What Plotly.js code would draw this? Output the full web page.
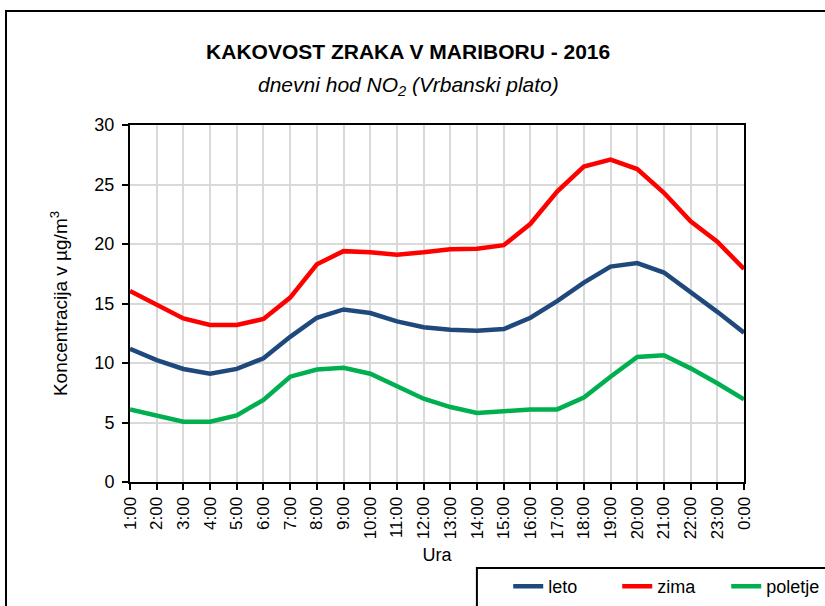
<!DOCTYPE html>
<html><head><meta charset="utf-8">
<script src="https://cdn.plot.ly/plotly-3.0.1.min.js"></script>
<style>
html,body{margin:0;padding:0;overflow:hidden;background:#fff;}
#wrap{position:relative;width:825px;height:606px;overflow:hidden;}
#chart{position:absolute;left:0;top:0;width:825px;height:606px;}
#frame{position:absolute;left:5px;top:10px;width:900px;height:700px;border:2px solid #000;pointer-events:none;}
</style></head>
<body>
<div id="wrap"><div id="chart"></div><div id="frame"></div></div>
<script>
const hours = ["1:00","2:00","3:00","4:00","5:00","6:00","7:00","8:00","9:00","10:00","11:00","12:00","13:00","14:00","15:00","16:00","17:00","18:00","19:00","20:00","21:00","22:00","23:00","0:00"];
const leto = [11.2,10.25,9.5,9.1,9.5,10.4,12.2,13.8,14.5,14.2,13.5,13.0,12.8,12.7,12.85,13.8,15.2,16.75,18.1,18.4,17.6,16.0,14.3,12.55];
const zima = [16.05,14.9,13.75,13.2,13.2,13.7,15.5,18.3,19.4,19.3,19.1,19.3,19.55,19.6,19.9,21.7,24.4,26.5,27.1,26.3,24.3,21.9,20.2,17.9];
const poletje = [6.1,5.6,5.07,5.07,5.6,6.9,8.85,9.45,9.6,9.1,8.0,7.0,6.3,5.8,5.95,6.1,6.1,7.1,8.85,10.5,10.65,9.55,8.3,6.95];

const FONT = '"Liberation Sans Narrow", "Arial Narrow", "Liberation Sans", Arial, sans-serif';

const traces = [
  {x: hours, y: leto, name: 'leto', type: 'scatter', mode: 'lines', line: {color: '#1F497D', width: 4.5}},
  {x: hours, y: zima, name: 'zima', type: 'scatter', mode: 'lines', line: {color: '#FF0000', width: 4.5}},
  {x: hours, y: poletje, name: 'poletje', type: 'scatter', mode: 'lines', line: {color: '#00B050', width: 4.5}}
];

const layout = {
  width: 825, height: 606,
  margin: {l: 130, r: 81, t: 125, b: 124, autoexpand: false},
  paper_bgcolor: 'rgba(0,0,0,0)',
  plot_bgcolor: '#fff',
  font: {family: FONT, color: '#000', size: 18},
  showlegend: true,
  title: {
    text: '<b>KAKOVOST ZRAKA V MARIBORU - 2016</b>',
    font: {family: FONT, size: 21, color: '#000'},
    xref: 'paper', x: 0.453, xanchor: 'center',
    yref: 'container', y: 0.914, yanchor: 'middle'
  },
  annotations: [{
    text: '<i>dnevni hod NO<sub>2</sub> (Vrbanski plato)</i>',
    xref: 'paper', yref: 'paper', x: 0.453, y: 1.109,
    xanchor: 'center', yanchor: 'middle', showarrow: false,
    font: {family: FONT, size: 21, color: '#000'}
  }],
  shapes: [{
    type: 'rect', xref: 'paper', yref: 'paper',
    x0: 0.565, x1: 1.25, y0: -0.241, y1: -0.45,
    line: {color: '#000', width: 2}, fillcolor: 'rgba(0,0,0,0)', layer: 'above'
  }],
  xaxis: {
    type: 'category',
    range: [0, 23],
    tickangle: -90,
    automargin: false,
    tickfont: {family: FONT, size: 17},
    ticks: 'outside', ticklen: 6, tickwidth: 2, tickcolor: '#000',
    showline: true, linecolor: '#000', linewidth: 2, mirror: true,
    showgrid: true, gridcolor: '#d9d9d9', gridwidth: 2,
    title: {text: 'Ura', font: {family: FONT, size: 18}, standoff: 10},
    zeroline: false
  },
  yaxis: {
    range: [0, 30],
    dtick: 5,
    automargin: false,
    tickfont: {family: FONT, size: 18},
    ticks: 'outside', ticklen: 6, tickwidth: 2, tickcolor: '#000',
    ticklabelstandoff: 4,
    showline: true, linecolor: '#000', linewidth: 2, mirror: true,
    showgrid: true, gridcolor: '#d9d9d9', gridwidth: 2,
    zeroline: false,
    title: {text: 'Koncentracija v µg/m<sup>3</sup>', font: {family: FONT, size: 19}, standoff: 22}
  },
  legend: {
    orientation: 'h',
    x: 0.616, xanchor: 'left',
    y: -0.241, yanchor: 'top',
    borderwidth: 0,
    bgcolor: 'rgba(0,0,0,0)',
    font: {family: FONT, size: 18},
    entrywidth: 64,
    tracegroupgap: 0
  }
};

Plotly.newPlot('chart', traces, layout, {displayModeBar: false, staticPlot: true});
</script>
</body></html>
